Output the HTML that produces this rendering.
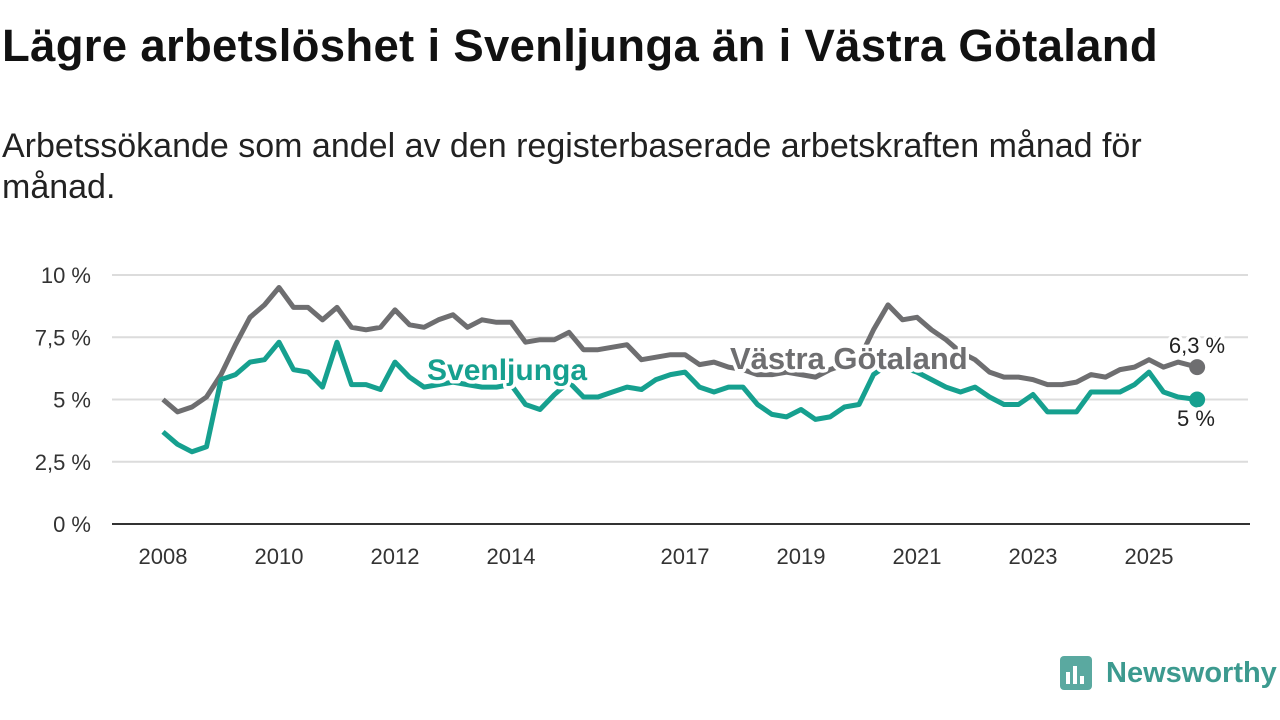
<!DOCTYPE html>
<html><head><meta charset="utf-8"><style>
body{margin:0;background:#fff;width:1280px;height:720px;overflow:hidden;font-family:"Liberation Sans",sans-serif}
#title{position:absolute;left:2px;top:20px;font-size:45.5px;font-weight:bold;color:#111;margin:0;letter-spacing:0.3px;white-space:nowrap}
#sub{position:absolute;left:2px;top:126px;font-size:34px;color:#222;line-height:41px;width:1200px}
svg{position:absolute;left:0;top:0}
</style></head><body>
<h1 id="title">Lägre arbetslöshet i Svenljunga än i Västra Götaland</h1>
<div id="sub">Arbetssökande som andel av den registerbaserade arbetskraften månad för månad.</div>
<svg id="chart" width="1280" height="720"></svg>
<script>
const dates=[2008,2008.25,2008.5,2008.75,2009,2009.25,2009.5,2009.75,2010,2010.25,2010.5,2010.75,2011,2011.25,2011.5,2011.75,2012,2012.25,2012.5,2012.75,2013,2013.25,2013.5,2013.75,2014,2014.25,2014.5,2014.75,2015,2015.25,2015.5,2015.75,2016,2016.25,2016.5,2016.75,2017,2017.25,2017.5,2017.75,2018,2018.25,2018.5,2018.75,2019,2019.25,2019.5,2019.75,2020,2020.25,2020.5,2020.75,2021,2021.25,2021.5,2021.75,2022,2022.25,2022.5,2022.75,2023,2023.25,2023.5,2023.75,2024,2024.25,2024.5,2024.75,2025,2025.25,2025.5,2025.83];
const vastraGotaland=[5.0,4.5,4.7,5.1,6.0,7.2,8.3,8.8,9.5,8.7,8.7,8.2,8.7,7.9,7.8,7.9,8.6,8.0,7.9,8.2,8.4,7.9,8.2,8.1,8.1,7.3,7.4,7.4,7.7,7.0,7.0,7.1,7.2,6.6,6.7,6.8,6.8,6.4,6.5,6.3,6.2,6.0,6.0,6.1,6.0,5.9,6.2,6.4,6.6,7.8,8.8,8.2,8.3,7.8,7.4,6.9,6.6,6.1,5.9,5.9,5.8,5.6,5.6,5.7,6.0,5.9,6.2,6.3,6.6,6.3,6.5,6.3];
const svenljunga=[3.7,3.2,2.9,3.1,5.8,6.0,6.5,6.6,7.3,6.2,6.1,5.5,7.3,5.6,5.6,5.4,6.5,5.9,5.5,5.6,5.7,5.6,5.5,5.5,5.6,4.8,4.6,5.2,5.7,5.1,5.1,5.3,5.5,5.4,5.8,6.0,6.1,5.5,5.3,5.5,5.5,4.8,4.4,4.3,4.6,4.2,4.3,4.7,4.8,6.0,6.4,6.3,6.1,5.8,5.5,5.3,5.5,5.1,4.8,4.8,5.2,4.5,4.5,4.5,5.3,5.3,5.3,5.6,6.1,5.3,5.1,5.0];
const yTicks=[0,2.5,5,7.5,10];
const yTickLabels=["0 %","2,5 %","5 %","7,5 %","10 %"];
const xTicks=[2008,2010,2012,2014,2017,2019,2021,2023,2025];
const NS="http://www.w3.org/2000/svg";
const svg=document.getElementById('chart');
const X=t=>163+(t-2008)*58;
const Y=v=>524-v*24.9;
function mk(tag,attrs,parent){const e=document.createElementNS(NS,tag);for(const k in attrs)e.setAttribute(k,attrs[k]);(parent||svg).appendChild(e);return e;}
yTicks.forEach((v,i)=>{
  if(v>0){const g=mk('line',{x1:112,x2:1248,y1:Y(v),y2:Y(v),stroke:'#dcdcdc','stroke-width':2});
  
  }
  const t=mk('text',{x:91,y:Y(v)+8,'text-anchor':'end','font-size':22,fill:'#333','font-family':'Liberation Sans,sans-serif'});
  t.textContent=yTickLabels[i];
  
  
});
const ax=mk('line',{x1:112,x2:1250,y1:524,y2:524,stroke:'#333','stroke-width':2});


xTicks.forEach(yr=>{
  const t=mk('text',{x:X(yr),y:564,'text-anchor':'middle','font-size':22,fill:'#333','font-family':'Liberation Sans,sans-serif'});
  t.textContent=yr;
  
  
});
function line(vals,color,name){
  const d=vals.map((v,i)=>(i?'L':'M')+X(dates[i]).toFixed(1)+','+Y(v).toFixed(1)).join('');
  const p=mk('path',{d:d,fill:'none',stroke:color,'stroke-width':5,'stroke-linejoin':'round'});
  
  
  const n=vals.length-1;
  const c=mk('circle',{cx:X(dates[n]),cy:Y(vals[n]),r:8,fill:color});
  
  
}
line(vastraGotaland,'#6e6e70','vastra-gotaland-line');
line(svenljunga,'#16a08f','svenljunga-line');
function label(txt,x,y,size,color,name,anchor,weight){
  const t=mk('text',{x:x,y:y,'font-size':size,fill:color,'font-weight':weight,'text-anchor':anchor,'font-family':'Liberation Sans,sans-serif',stroke:'#fff','stroke-width':7,'paint-order':'stroke','stroke-linejoin':'round'});
  t.textContent=txt;
  
  
}
label('Svenljunga',427,380,30,'#16a08f','svenljunga-label','start','bold');
label('Västra Götaland',730,369,31,'#6e6e70','vastra-gotaland-label','start','bold');
label('6,3 %',1197,353,22,'#222','vastra-end-value','middle','normal');
label('5 %',1196,426,22,'#222','svenljunga-end-value','middle','normal');
</script>
<svg width="1280" height="720" style="pointer-events:none">
  <rect x="1060" y="656" width="32" height="34" rx="4" fill="#5aa9a0"/>
  <rect x="1066" y="672" width="4" height="12" fill="#fff"/><rect x="1073" y="666" width="4" height="18" fill="#fff"/><rect x="1080" y="676" width="4" height="8" fill="#fff"/>
  <text x="1106" y="682" font-size="29" font-weight="bold" fill="#3c9a8f" font-family="Liberation Sans,sans-serif">Newsworthy</text>
</svg>
</body></html>
